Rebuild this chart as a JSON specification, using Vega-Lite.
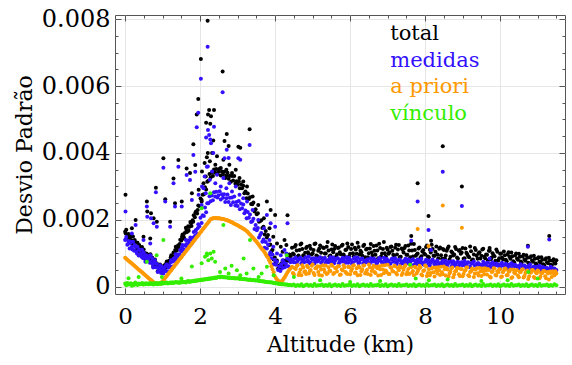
{
"$schema":"https://vega.github.io/schema/vega-lite/v6.json",
"width":450,"height":279,
"autosize":{"type":"none"},
"padding":{"left":115,"top":15,"right":7,"bottom":71},
"config":{
 "view":{"stroke":"#555555","strokeWidth":1},
 "axis":{"labelFont":"DejaVu Serif","titleFont":"DejaVu Serif","labelColor":"#000000","titleColor":"#000000","titleFontWeight":"normal","tickColor":"#555555","gridColor":"#e6e6e6","domain":false,"labelFlush":false,"labelBound":false}
},
"data":{"values":[
{"a":0,"t":0.00165,"m":0.0014,"p":0.00087,"v":0.0001},
{"a":0.03,"t":0.00171,"m":0.00149,"p":0.00084,"v":0.00005},
{"a":0.06,"t":0.0015,"m":0.00126,"p":0.00081,"v":0.00012},
{"a":0.09,"t":0.00158,"m":0.00137,"p":0.00078,"v":0.00007},
{"a":0.12,"t":0.00137,"m":0.00115,"p":0.00075,"v":0.00008},
{"a":0.15,"t":0.00154,"m":0.00135,"p":0.00073,"v":0.00011},
{"a":0.18,"t":0.00139,"m":0.0012,"p":0.0007,"v":0.00004},
{"a":0.21,"t":0.00151,"m":0.00135,"p":0.00067,"v":0.00009},
{"a":0.24,"t":0.00126,"m":0.00108,"p":0.00064,"v":0.00006},
{"a":0.27,"t":0.00134,"m":0.00119,"p":0.00061,"v":0.00013},
{"a":0.3,"t":0.00121,"m":0.00106,"p":0.00058,"v":0.00009},
{"a":0.33,"t":0.00132,"m":0.0012,"p":0.00055,"v":0.00006},
{"a":0.36,"t":0.00107,"m":0.00094,"p":0.00052,"v":0.0001},
{"a":0.39,"t":0.0012,"m":0.0011,"p":0.00049,"v":0.00008},
{"a":0.42,"t":0.0011,"m":0.00099,"p":0.00047,"v":0.00009},
{"a":0.45,"t":0.00119,"m":0.00111,"p":0.00044,"v":0.00012},
{"a":0.48,"t":0.00095,"m":0.00086,"p":0.00041,"v":0.00007},
{"a":0.51,"t":0.00102,"m":0.00095,"p":0.00038,"v":0.0001},
{"a":0.54,"t":0.00083,"m":0.00075,"p":0.00035,"v":0.00008},
{"a":0.57,"t":0.001,"m":0.00095,"p":0.00032,"v":0.00011},
{"a":0.6,"t":0.00085,"m":0.0008,"p":0.00029,"v":0.00009},
{"a":0.63,"t":0.00096,"m":0.00092,"p":0.00026,"v":0.00008},
{"a":0.66,"t":0.00077,"m":0.00072,"p":0.00023,"v":0.00012},
{"a":0.69,"t":0.00079,"m":0.00076,"p":0.00021,"v":0.00009},
{"a":0.72,"t":0.00088,"m":0.00086,"p":0.00018,"v":0.0001},
{"a":0.75,"t":0.0006,"m":0.00058,"p":0.00015,"v":0.00007},
{"a":0.78,"t":0.00074,"m":0.00072,"p":0.00012,"v":0.00011},
{"a":0.81,"t":0.00061,"m":0.00059,"p":0.0001,"v":0.00009},
{"a":0.84,"t":0.00071,"m":0.00069,"p":0.0001,"v":0.00012},
{"a":0.87,"t":0.00047,"m":0.00045,"p":0.0001,"v":0.00008},
{"a":0.9,"t":0.00057,"m":0.00055,"p":0.0001,"v":0.0001},
{"a":0.93,"t":0.00067,"m":0.00065,"p":0.0001,"v":0.00012},
{"a":0.96,"t":0.00044,"m":0.00042,"p":0.00011,"v":0.00009},
{"a":0.99,"t":0.00057,"m":0.00053,"p":0.00016,"v":0.00013},
{"a":1.02,"t":0.00046,"m":0.0004,"p":0.0002,"v":0.0001},
{"a":1.05,"t":0.00065,"m":0.00059,"p":0.00024,"v":0.00012},
{"a":1.08,"t":0.00057,"m":0.00048,"p":0.00029,"v":0.00011},
{"a":1.11,"t":0.00076,"m":0.00067,"p":0.00033,"v":0.00013},
{"a":1.14,"t":0.0006,"m":0.00046,"p":0.00037,"v":0.0001},
{"a":1.17,"t":0.00078,"m":0.00064,"p":0.00042,"v":0.00012},
{"a":1.2,"t":0.00076,"m":0.00059,"p":0.00046,"v":0.00013},
{"a":1.23,"t":0.00095,"m":0.0008,"p":0.0005,"v":0.00011},
{"a":1.26,"t":0.00083,"m":0.00061,"p":0.00055,"v":0.00014},
{"a":1.29,"t":0.00103,"m":0.00084,"p":0.00059,"v":0.00012},
{"a":1.32,"t":0.00102,"m":0.00079,"p":0.00063,"v":0.00013},
{"a":1.35,"t":0.0012,"m":0.00098,"p":0.00068,"v":0.00015},
{"a":1.38,"t":0.00109,"m":0.00081,"p":0.00072,"v":0.00013},
{"a":1.41,"t":0.00124,"m":0.00097,"p":0.00076,"v":0.00014},
{"a":1.44,"t":0.00117,"m":0.00084,"p":0.00081,"v":0.00012},
{"a":1.47,"t":0.00141,"m":0.00111,"p":0.00085,"v":0.00015},
{"a":1.5,"t":0.00139,"m":0.00107,"p":0.00089,"v":0.00013},
{"a":1.53,"t":0.00157,"m":0.00125,"p":0.00094,"v":0.00016},
{"a":1.56,"t":0.0015,"m":0.00112,"p":0.00098,"v":0.00014},
{"a":1.59,"t":0.00161,"m":0.00124,"p":0.00102,"v":0.00015},
{"a":1.62,"t":0.00177,"m":0.0014,"p":0.00107,"v":0.00013},
{"a":1.65,"t":0.00164,"m":0.00119,"p":0.00111,"v":0.00016},
{"a":1.68,"t":0.00181,"m":0.00139,"p":0.00115,"v":0.00018},
{"a":1.71,"t":0.00179,"m":0.00132,"p":0.0012,"v":0.00015},
{"a":1.74,"t":0.00194,"m":0.00148,"p":0.00124,"v":0.00017},
{"a":1.77,"t":0.00182,"m":0.00129,"p":0.00128,"v":0.00016},
{"a":1.8,"t":0.00199,"m":0.00147,"p":0.00133,"v":0.00018},
{"a":1.83,"t":0.00214,"m":0.00164,"p":0.00137,"v":0.00017},
{"a":1.86,"t":0.00208,"m":0.00152,"p":0.00141,"v":0.00019},
{"a":1.89,"t":0.00225,"m":0.0017,"p":0.00146,"v":0.00018},
{"a":1.92,"t":0.00219,"m":0.00158,"p":0.0015,"v":0.0002},
{"a":1.95,"t":0.00243,"m":0.00187,"p":0.00154,"v":0.00019},
{"a":1.98,"t":0.00242,"m":0.00181,"p":0.00159,"v":0.00021},
{"a":2.01,"t":0.00264,"m":0.00207,"p":0.00163,"v":0.0002},
{"a":2.04,"t":0.00255,"m":0.00191,"p":0.00167,"v":0.00022},
{"a":2.07,"t":0.00275,"m":0.00214,"p":0.00172,"v":0.00021},
{"a":2.1,"t":0.00277,"m":0.00212,"p":0.00176,"v":0.00023},
{"a":2.13,"t":0.00298,"m":0.00237,"p":0.0018,"v":0.00022},
{"a":2.16,"t":0.00291,"m":0.00223,"p":0.00185,"v":0.00024},
{"a":2.19,"t":0.00314,"m":0.0025,"p":0.00189,"v":0.00023},
{"a":2.22,"t":0.00317,"m":0.0025,"p":0.00193,"v":0.00025},
{"a":2.25,"t":0.00337,"m":0.00271,"p":0.00198,"v":0.00024},
{"a":2.28,"t":0.00327,"m":0.00256,"p":0.00202,"v":0.00026},
{"a":2.31,"t":0.00342,"m":0.00273,"p":0.00204,"v":0.00025},
{"a":2.34,"t":0.00331,"m":0.00259,"p":0.00205,"v":0.00027},
{"a":2.37,"t":0.00351,"m":0.00283,"p":0.00206,"v":0.00026},
{"a":2.4,"t":0.00341,"m":0.0027,"p":0.00206,"v":0.00028},
{"a":2.43,"t":0.00352,"m":0.00284,"p":0.00206,"v":0.00027},
{"a":2.46,"t":0.00338,"m":0.00267,"p":0.00205,"v":0.00029},
{"a":2.49,"t":0.00344,"m":0.00274,"p":0.00205,"v":0.0003},
{"a":2.52,"t":0.00353,"m":0.00286,"p":0.00205,"v":0.00029},
{"a":2.55,"t":0.00333,"m":0.00261,"p":0.00204,"v":0.00031},
{"a":2.58,"t":0.00345,"m":0.00277,"p":0.00204,"v":0.0003},
{"a":2.61,"t":0.00336,"m":0.00266,"p":0.00203,"v":0.00029},
{"a":2.64,"t":0.00344,"m":0.00277,"p":0.00202,"v":0.0003},
{"a":2.67,"t":0.00325,"m":0.00254,"p":0.00201,"v":0.00028},
{"a":2.7,"t":0.00333,"m":0.00265,"p":0.002,"v":0.00029},
{"a":2.73,"t":0.00341,"m":0.00276,"p":0.00199,"v":0.00028},
{"a":2.76,"t":0.00323,"m":0.00254,"p":0.00197,"v":0.00027},
{"a":2.79,"t":0.00332,"m":0.00266,"p":0.00196,"v":0.00028},
{"a":2.82,"t":0.00314,"m":0.00245,"p":0.00194,"v":0.00027},
{"a":2.85,"t":0.00331,"m":0.00267,"p":0.00193,"v":0.00026},
{"a":2.88,"t":0.00318,"m":0.00253,"p":0.00191,"v":0.00027},
{"a":2.91,"t":0.00331,"m":0.0027,"p":0.00189,"v":0.00026},
{"a":2.94,"t":0.00308,"m":0.00243,"p":0.00187,"v":0.00025},
{"a":2.97,"t":0.00316,"m":0.00254,"p":0.00186,"v":0.00026},
{"a":3,"t":0.00305,"m":0.00242,"p":0.00184,"v":0.00026},
{"a":3.03,"t":0.00316,"m":0.00257,"p":0.00182,"v":0.00025},
{"a":3.06,"t":0.00295,"m":0.00232,"p":0.0018,"v":0.00024},
{"a":3.09,"t":0.00307,"m":0.00249,"p":0.00178,"v":0.00025},
{"a":3.12,"t":0.00295,"m":0.00235,"p":0.00176,"v":0.00024},
{"a":3.15,"t":0.00302,"m":0.00246,"p":0.00174,"v":0.00023},
{"a":3.18,"t":0.0028,"m":0.0022,"p":0.00172,"v":0.00024},
{"a":3.21,"t":0.00285,"m":0.00228,"p":0.00169,"v":0.00023},
{"a":3.24,"t":0.00265,"m":0.00205,"p":0.00167,"v":0.00022},
{"a":3.27,"t":0.00279,"m":0.00224,"p":0.00164,"v":0.00022},
{"a":3.3,"t":0.00263,"m":0.00207,"p":0.0016,"v":0.00021},
{"a":3.33,"t":0.00268,"m":0.00216,"p":0.00157,"v":0.00022},
{"a":3.36,"t":0.00248,"m":0.00194,"p":0.00153,"v":0.00021},
{"a":3.39,"t":0.00247,"m":0.00196,"p":0.00149,"v":0.0002},
{"a":3.42,"t":0.00252,"m":0.00204,"p":0.00146,"v":0.00021},
{"a":3.45,"t":0.00225,"m":0.00173,"p":0.00142,"v":0.0002},
{"a":3.48,"t":0.00232,"m":0.00185,"p":0.00138,"v":0.00019},
{"a":3.51,"t":0.00217,"m":0.00169,"p":0.00134,"v":0.0002},
{"a":3.54,"t":0.0022,"m":0.00176,"p":0.0013,"v":0.00019},
{"a":3.57,"t":0.00195,"m":0.00148,"p":0.00125,"v":0.00018},
{"a":3.6,"t":0.00197,"m":0.00155,"p":0.0012,"v":0.00018},
{"a":3.63,"t":0.00199,"m":0.00161,"p":0.00116,"v":0.00017},
{"a":3.66,"t":0.00176,"m":0.00135,"p":0.00112,"v":0.00017},
{"a":3.69,"t":0.0018,"m":0.00142,"p":0.00109,"v":0.00016},
{"a":3.72,"t":0.00157,"m":0.00117,"p":0.00104,"v":0.00016},
{"a":3.75,"t":0.00167,"m":0.00134,"p":0.00098,"v":0.00015},
{"a":3.78,"t":0.00148,"m":0.00115,"p":0.00092,"v":0.00015},
{"a":3.81,"t":0.00155,"m":0.00127,"p":0.00087,"v":0.00014},
{"a":3.84,"t":0.00125,"m":0.00095,"p":0.0008,"v":0.00014},
{"a":3.87,"t":0.00127,"m":0.00103,"p":0.00072,"v":0.00014},
{"a":3.9,"t":0.00107,"m":0.00086,"p":0.00062,"v":0.00013},
{"a":3.93,"t":0.00111,"m":0.00097,"p":0.00053,"v":0.00013},
{"a":3.96,"t":0.00082,"m":0.00068,"p":0.00044,"v":0.00012},
{"a":3.99,"t":0.00088,"m":0.00081,"p":0.00033,"v":0.00012},
{"a":4.02,"t":0.00072,"m":0.00066,"p":0.00027,"v":0.00011},
{"a":4.05,"t":0.00079,"m":0.00075,"p":0.00022,"v":0.0001},
{"a":4.08,"t":0.00055,"m":0.00051,"p":0.00018,"v":0.0001},
{"a":4.11,"t":0.00064,"m":0.00061,"p":0.00016,"v":0.00009},
{"a":4.14,"t":0.00051,"m":0.00048,"p":0.00015,"v":0.00009},
{"a":4.17,"t":0.00071,"m":0.00068,"p":0.00017,"v":0.00008},
{"a":4.2,"t":0.00061,"m":0.00057,"p":0.0002,"v":0.00008},
{"a":4.23,"t":0.00079,"m":0.00074,"p":0.00025,"v":0.00008},
{"a":4.26,"t":0.00067,"m":0.00059,"p":0.0003,"v":0.00007},
{"a":4.29,"t":0.00078,"m":0.00069,"p":0.00036,"v":0.00007},
{"a":4.32,"t":0.00095,"m":0.00085,"p":0.00042,"v":0.00007},
{"a":4.35,"t":0.00078,"m":0.00062,"p":0.00047,"v":0.00006},
{"a":4.38,"t":0.00097,"m":0.00082,"p":0.00052,"v":0.00006},
{"a":4.41,"t":0.00092,"m":0.00074,"p":0.00055,"v":0.00006},
{"a":4.45,"t":0.00117,"m":0.00083,"p":0.0006,"v":0.00005},
{"a":4.5,"t":0.00097,"m":0.00074,"p":0.00038,"v":0.00007},
{"a":4.55,"t":0.00125,"m":0.00088,"p":0.00054,"v":0.00003},
{"a":4.6,"t":0.0009,"m":0.00078,"p":0.00065,"v":0.00006},
{"a":4.65,"t":0.0011,"m":0.00085,"p":0.00043,"v":0.00004},
{"a":4.7,"t":0.0013,"m":0.00071,"p":0.00035,"v":0.00008},
{"a":4.75,"t":0.00095,"m":0.00081,"p":0.00058,"v":0.00002},
{"a":4.8,"t":0.00102,"m":0.00087,"p":0.00047,"v":0.00005},
{"a":4.85,"t":0.0012,"m":0.00076,"p":0.00063,"v":0.00007},
{"a":4.9,"t":0.00098,"m":0.0009,"p":0.0004,"v":0.00004},
{"a":4.95,"t":0.00114,"m":0.00073,"p":0.00051,"v":0.00006},
{"a":5,"t":0.00101,"m":0.00082,"p":0.00067,"v":0.00003},
{"a":5.05,"t":0.00128,"m":0.0007,"p":0.00036,"v":0.00009},
{"a":5.1,"t":0.00094,"m":0.00086,"p":0.00056,"v":0.00004},
{"a":5.15,"t":0.00108,"m":0.00079,"p":0.00045,"v":0.00005},
{"a":5.2,"t":0.00124,"m":0.00089,"p":0.00061,"v":0.00005},
{"a":5.25,"t":0.00086,"m":0.00075,"p":0.00034,"v":0.00007},
{"a":5.3,"t":0.00116,"m":0.00084,"p":0.00053,"v":0.00003},
{"a":5.35,"t":0.001,"m":0.00072,"p":0.00064,"v":0.00006},
{"a":5.4,"t":0.00134,"m":0.0008,"p":0.00041,"v":0.00004},
{"a":5.45,"t":0.00092,"m":0.00083,"p":0.00049,"v":0.00008},
{"a":5.5,"t":0.00112,"m":0.00074,"p":0.00066,"v":0.00002},
{"a":5.55,"t":0.00104,"m":0.00088,"p":0.00039,"v":0.00005},
{"a":5.6,"t":0.00122,"m":0.00078,"p":0.00057,"v":0.00007},
{"a":5.65,"t":0.00097,"m":0.00085,"p":0.00046,"v":0.00004},
{"a":5.7,"t":0.00118,"m":0.00071,"p":0.00062,"v":0.00006},
{"a":5.75,"t":0.00098,"m":0.00081,"p":0.00037,"v":0.00003},
{"a":5.8,"t":0.00126,"m":0.00087,"p":0.0005,"v":0.00009},
{"a":5.85,"t":0.00091,"m":0.00076,"p":0.00059,"v":0.00004},
{"a":5.9,"t":0.00112,"m":0.00089,"p":0.00042,"v":0.00005},
{"a":5.95,"t":0.00119,"m":0.00072,"p":0.0006,"v":0.00005},
{"a":6,"t":0.00099,"m":0.00081,"p":0.00038,"v":0.00007},
{"a":6.05,"t":0.00127,"m":0.00069,"p":0.00054,"v":0.00003},
{"a":6.1,"t":0.00092,"m":0.00085,"p":0.00065,"v":0.00006},
{"a":6.15,"t":0.00112,"m":0.00078,"p":0.00043,"v":0.00004},
{"a":6.2,"t":0.00132,"m":0.00088,"p":0.00035,"v":0.00008},
{"a":6.25,"t":0.00097,"m":0.00074,"p":0.00058,"v":0.00002},
{"a":6.3,"t":0.00104,"m":0.00083,"p":0.00047,"v":0.00005},
{"a":6.35,"t":0.00122,"m":0.0007,"p":0.00063,"v":0.00007},
{"a":6.4,"t":0.00089,"m":0.00078,"p":0.0004,"v":0.00004},
{"a":6.45,"t":0.00114,"m":0.00081,"p":0.00051,"v":0.00006},
{"a":6.5,"t":0.00101,"m":0.00072,"p":0.00067,"v":0.00003},
{"a":6.55,"t":0.00128,"m":0.00086,"p":0.00036,"v":0.00009},
{"a":6.6,"t":0.00094,"m":0.00076,"p":0.00056,"v":0.00004},
{"a":6.65,"t":0.00108,"m":0.00083,"p":0.00045,"v":0.00005},
{"a":6.7,"t":0.00124,"m":0.00069,"p":0.00061,"v":0.00005},
{"a":6.75,"t":0.00086,"m":0.00079,"p":0.00034,"v":0.00007},
{"a":6.8,"t":0.00116,"m":0.00085,"p":0.00053,"v":0.00003},
{"a":6.85,"t":0.001,"m":0.00073,"p":0.00064,"v":0.00006},
{"a":6.9,"t":0.00134,"m":0.00087,"p":0.00041,"v":0.00004},
{"a":6.95,"t":0.00092,"m":0.0007,"p":0.00049,"v":0.00008},
{"a":7,"t":0.00111,"m":0.00079,"p":0.00066,"v":0.00002},
{"a":7.05,"t":0.00103,"m":0.00067,"p":0.00039,"v":0.00005},
{"a":7.1,"t":0.00121,"m":0.00083,"p":0.00057,"v":0.00007},
{"a":7.15,"t":0.00096,"m":0.00076,"p":0.00046,"v":0.00004},
{"a":7.2,"t":0.00117,"m":0.00086,"p":0.00062,"v":0.00006},
{"a":7.25,"t":0.00097,"m":0.00072,"p":0.00037,"v":0.00003},
{"a":7.3,"t":0.00125,"m":0.0008,"p":0.0005,"v":0.00009},
{"a":7.35,"t":0.0009,"m":0.00068,"p":0.00059,"v":0.00004},
{"a":7.4,"t":0.00111,"m":0.00076,"p":0.00042,"v":0.00005},
{"a":7.45,"t":0.00116,"m":0.00079,"p":0.0006,"v":0.00005},
{"a":7.5,"t":0.00096,"m":0.0007,"p":0.00038,"v":0.00007},
{"a":7.55,"t":0.00124,"m":0.00083,"p":0.00054,"v":0.00003},
{"a":7.6,"t":0.00089,"m":0.00073,"p":0.00065,"v":0.00006},
{"a":7.65,"t":0.00109,"m":0.0008,"p":0.00043,"v":0.00004},
{"a":7.7,"t":0.00128,"m":0.00066,"p":0.00035,"v":0.00008},
{"a":7.75,"t":0.00093,"m":0.00076,"p":0.00058,"v":0.00002},
{"a":7.8,"t":0.001,"m":0.00082,"p":0.00047,"v":0.00005},
{"a":7.85,"t":0.00118,"m":0.0007,"p":0.00063,"v":0.00007},
{"a":7.9,"t":0.00092,"m":0.00084,"p":0.00037,"v":0.00004},
{"a":7.95,"t":0.0011,"m":0.00067,"p":0.00048,"v":0.00006},
{"a":8,"t":0.00097,"m":0.00076,"p":0.00064,"v":0.00003},
{"a":8.05,"t":0.00124,"m":0.00063,"p":0.00033,"v":0.00009},
{"a":8.1,"t":0.00089,"m":0.00079,"p":0.00053,"v":0.00004},
{"a":8.15,"t":0.00103,"m":0.00072,"p":0.00042,"v":0.00005},
{"a":8.2,"t":0.00113,"m":0.00082,"p":0.00058,"v":0.00005},
{"a":8.25,"t":0.00093,"m":0.00068,"p":0.00031,"v":0.00007},
{"a":8.3,"t":0.00121,"m":0.00076,"p":0.0005,"v":0.00003},
{"a":8.35,"t":0.00086,"m":0.00064,"p":0.00059,"v":0.00006},
{"a":8.4,"t":0.00118,"m":0.00071,"p":0.00036,"v":0.00004},
{"a":8.45,"t":0.00084,"m":0.00074,"p":0.00044,"v":0.00008},
{"a":8.5,"t":0.0011,"m":0.00064,"p":0.00061,"v":0.00002},
{"a":8.55,"t":0.00094,"m":0.00078,"p":0.00034,"v":0.00005},
{"a":8.6,"t":0.00115,"m":0.00068,"p":0.00052,"v":0.00007},
{"a":8.65,"t":0.00082,"m":0.00075,"p":0.0004,"v":0.00004},
{"a":8.7,"t":0.00106,"m":0.0006,"p":0.00056,"v":0.00006},
{"a":8.75,"t":0.00094,"m":0.00077,"p":0.00029,"v":0.00003},
{"a":8.8,"t":0.00119,"m":0.00066,"p":0.00047,"v":0.00009},
{"a":8.85,"t":0.00088,"m":0.00074,"p":0.00057,"v":0.00004},
{"a":8.9,"t":0.00108,"m":0.00063,"p":0.00038,"v":0.00005},
{"a":8.95,"t":0.00099,"m":0.00072,"p":0.00054,"v":0.00005},
{"a":9,"t":0.00116,"m":0.00065,"p":0.00032,"v":0.00007},
{"a":9.05,"t":0.00086,"m":0.00078,"p":0.00048,"v":0.00003},
{"a":9.1,"t":0.00102,"m":0.00068,"p":0.00058,"v":0.00006},
{"a":9.15,"t":0.00091,"m":0.00074,"p":0.00035,"v":0.00004},
{"a":9.2,"t":0.00121,"m":0.0006,"p":0.00045,"v":0.00008},
{"a":9.25,"t":0.0008,"m":0.0007,"p":0.00055,"v":0.00002},
{"a":9.3,"t":0.00097,"m":0.00076,"p":0.0003,"v":0.00005},
{"a":9.35,"t":0.0011,"m":0.00064,"p":0.00052,"v":0.00007},
{"a":9.4,"t":0.00084,"m":0.00071,"p":0.00041,"v":0.00004},
{"a":9.45,"t":0.00104,"m":0.00067,"p":0.00057,"v":0.00006},
{"a":9.5,"t":0.00093,"m":0.00062,"p":0.00033,"v":0.00003},
{"a":9.55,"t":0.00114,"m":0.00075,"p":0.00047,"v":0.00009},
{"a":9.6,"t":0.00086,"m":0.00065,"p":0.00056,"v":0.00004},
{"a":9.65,"t":0.00096,"m":0.00072,"p":0.00037,"v":0.00005},
{"a":9.7,"t":0.00108,"m":0.00059,"p":0.00051,"v":0.00005},
{"a":9.75,"t":0.00083,"m":0.00069,"p":0.00028,"v":0.00007},
{"a":9.8,"t":0.00101,"m":0.00074,"p":0.00046,"v":0.00003},
{"a":9.85,"t":0.00092,"m":0.00063,"p":0.00055,"v":0.00006},
{"a":9.9,"t":0.00112,"m":0.0007,"p":0.00034,"v":0.00004},
{"a":9.95,"t":0.00079,"m":0.00066,"p":0.00044,"v":0.00008},
{"a":10,"t":0.00099,"m":0.00058,"p":0.00053,"v":0.00002},
{"a":10.05,"t":0.00088,"m":0.00072,"p":0.00031,"v":0.00005},
{"a":10.1,"t":0.00106,"m":0.00063,"p":0.00049,"v":0.00007},
{"a":10.15,"t":0.00081,"m":0.00069,"p":0.00054,"v":0.00004},
{"a":10.2,"t":0.00097,"m":0.00057,"p":0.00036,"v":0.00006},
{"a":10.25,"t":0.0009,"m":0.00067,"p":0.00046,"v":0.00003},
{"a":10.3,"t":0.00103,"m":0.00071,"p":0.00027,"v":0.00009},
{"a":10.35,"t":0.00077,"m":0.0006,"p":0.00052,"v":0.00004},
{"a":10.4,"t":0.00094,"m":0.00066,"p":0.0004,"v":0.00005},
{"a":10.45,"t":0.00085,"m":0.00062,"p":0.0005,"v":0.00005},
{"a":10.5,"t":0.00099,"m":0.00055,"p":0.00029,"v":0.00007},
{"a":10.55,"t":0.00076,"m":0.00068,"p":0.00045,"v":0.00003},
{"a":10.6,"t":0.00091,"m":0.00059,"p":0.00053,"v":0.00006},
{"a":10.65,"t":0.00082,"m":0.00064,"p":0.00033,"v":0.00004},
{"a":10.7,"t":0.00095,"m":0.00053,"p":0.00047,"v":0.00008},
{"a":10.75,"t":0.00072,"m":0.00062,"p":0.00024,"v":0.00002},
{"a":10.8,"t":0.00088,"m":0.00067,"p":0.00043,"v":0.00005},
{"a":10.85,"t":0.00079,"m":0.00056,"p":0.00051,"v":0.00007},
{"a":10.9,"t":0.00093,"m":0.00061,"p":0.0003,"v":0.00004},
{"a":10.95,"t":0.0007,"m":0.00057,"p":0.00044,"v":0.00006},
{"a":11,"t":0.00086,"m":0.00051,"p":0.00049,"v":0.00003},
{"a":11.05,"t":0.00076,"m":0.00063,"p":0.00026,"v":0.00009},
{"a":11.1,"t":0.00089,"m":0.00055,"p":0.00041,"v":0.00004},
{"a":11.15,"t":0.00068,"m":0.00059,"p":0.00048,"v":0.00005},
{"a":11.2,"t":0.00082,"m":0.00049,"p":0.00032,"v":0.00005},
{"a":11.25,"t":0.00074,"m":0.00057,"p":0.00045,"v":0.00007},
{"a":11.3,"t":0.00087,"m":0.00053,"p":0.00022,"v":0.00003},
{"a":11.35,"t":0.00066,"m":0.0006,"p":0.00042,"v":0.00006},
{"a":11.4,"t":0.00078,"m":0.00048,"p":0.00047,"v":0.00004},
{"a":11.45,"t":0.00071,"m":0.00055,"p":0.00035,"v":0.00008},
{"a":11.5,"t":0.0008,"m":0.00051,"p":0.0004,"v":0.00005},
{"a":4.475,"t":0.001,"m":0.00076,"p":0.00042},
{"a":4.525,"t":0.0012,"m":0.00085,"p":0.00056},
{"a":4.575,"t":0.00109,"m":0.00072,"p":0.00062},
{"a":4.625,"t":0.00094,"m":0.00082,"p":0.00036},
{"a":4.675,"t":0.00127,"m":0.00087,"p":0.00052},
{"a":4.725,"t":0.00113,"m":0.00079,"p":0.00065},
{"a":4.775,"t":0.0009,"m":0.00074,"p":0.00045},
{"a":4.825,"t":0.00116,"m":0.00089,"p":0.00039},
{"a":4.875,"t":0.00104,"m":0.0008,"p":0.00059},
{"a":4.925,"t":0.00123,"m":0.00071,"p":0.00048},
{"a":4.975,"t":0.00097,"m":0.00084,"p":0.00063},
{"a":5.025,"t":0.0011,"m":0.00086,"p":0.00042},
{"a":5.075,"t":0.0013,"m":0.00077,"p":0.00056},
{"a":5.125,"t":0.00092,"m":0.00076,"p":0.00062},
{"a":5.175,"t":0.00114,"m":0.00085,"p":0.00036},
{"a":5.225,"t":0.00102,"m":0.00072,"p":0.00052},
{"a":5.275,"t":0.00118,"m":0.00082,"p":0.00065},
{"a":5.325,"t":0.001,"m":0.00087,"p":0.00045},
{"a":5.375,"t":0.0012,"m":0.00079,"p":0.00039},
{"a":5.425,"t":0.00109,"m":0.00074,"p":0.00059},
{"a":5.475,"t":0.00094,"m":0.00089,"p":0.00048},
{"a":5.525,"t":0.00127,"m":0.0008,"p":0.00063},
{"a":5.575,"t":0.00113,"m":0.00071,"p":0.00042},
{"a":5.625,"t":0.0009,"m":0.00084,"p":0.00056},
{"a":5.675,"t":0.00116,"m":0.00086,"p":0.00062},
{"a":5.725,"t":0.00104,"m":0.00077,"p":0.00036},
{"a":5.775,"t":0.00123,"m":0.00076,"p":0.00052},
{"a":5.825,"t":0.00097,"m":0.00085,"p":0.00065},
{"a":5.875,"t":0.0011,"m":0.00072,"p":0.00045},
{"a":5.925,"t":0.0013,"m":0.00082,"p":0.00039},
{"a":5.975,"t":0.00092,"m":0.00087,"p":0.00059},
{"a":6.025,"t":0.00113,"m":0.00078,"p":0.00048},
{"a":6.075,"t":0.00101,"m":0.00073,"p":0.00063},
{"a":6.125,"t":0.00117,"m":0.00088,"p":0.00042},
{"a":6.175,"t":0.00099,"m":0.00079,"p":0.00056},
{"a":6.225,"t":0.00119,"m":0.0007,"p":0.00062},
{"a":6.275,"t":0.00108,"m":0.00083,"p":0.00036},
{"a":6.325,"t":0.00093,"m":0.00085,"p":0.00052},
{"a":6.375,"t":0.00126,"m":0.00075,"p":0.00065},
{"a":6.425,"t":0.00112,"m":0.00074,"p":0.00045},
{"a":6.475,"t":0.00089,"m":0.00083,"p":0.00039},
{"a":6.525,"t":0.00115,"m":0.0007,"p":0.00059},
{"a":6.575,"t":0.00103,"m":0.0008,"p":0.00048},
{"a":6.625,"t":0.00122,"m":0.00085,"p":0.00063},
{"a":6.675,"t":0.00096,"m":0.00077,"p":0.00042},
{"a":6.725,"t":0.00109,"m":0.00072,"p":0.00056},
{"a":6.775,"t":0.00129,"m":0.00086,"p":0.00062},
{"a":6.825,"t":0.00091,"m":0.00077,"p":0.00036},
{"a":6.875,"t":0.00113,"m":0.00069,"p":0.00052},
{"a":6.925,"t":0.00101,"m":0.0008,"p":0.00065},
{"a":6.975,"t":0.00117,"m":0.00084,"p":0.00045},
{"a":7.025,"t":0.00099,"m":0.00076,"p":0.00039},
{"a":7.075,"t":0.00119,"m":0.0007,"p":0.00059},
{"a":7.125,"t":0.00108,"m":0.00085,"p":0.00048},
{"a":7.175,"t":0.00093,"m":0.00076,"p":0.00063},
{"a":7.225,"t":0.00126,"m":0.00067,"p":0.00042},
{"a":7.275,"t":0.00112,"m":0.0008,"p":0.00056},
{"a":7.325,"t":0.00089,"m":0.00082,"p":0.00062},
{"a":7.375,"t":0.00115,"m":0.00073,"p":0.00036},
{"a":7.425,"t":0.00103,"m":0.00071,"p":0.00052},
{"a":7.475,"t":0.00122,"m":0.00084,"p":0.00065},
{"a":7.525,"t":0.00096,"m":0.00075,"p":0.00045},
{"a":7.575,"t":0.00109,"m":0.00069,"p":0.00039},
{"a":7.625,"t":0.00129,"m":0.0008,"p":0.00059},
{"a":7.675,"t":0.00091,"m":0.00083,"p":0.00048},
{"a":7.725,"t":0.0011,"m":0.00078,"p":0.0006},
{"a":7.775,"t":0.00097,"m":0.00068,"p":0.0004},
{"a":7.825,"t":0.00115,"m":0.00074,"p":0.00053},
{"a":7.875,"t":0.00087,"m":0.00079,"p":0.00058},
{"a":7.925,"t":0.00106,"m":0.00072,"p":0.00034},
{"a":7.975,"t":0.00099,"m":0.00066,"p":0.0005},
{"a":8.025,"t":0.00119,"m":0.00081,"p":0.00061},
{"a":8.075,"t":0.00091,"m":0.00073,"p":0.00042},
{"a":8.125,"t":0.00111,"m":0.00064,"p":0.00035},
{"a":8.175,"t":0.00126,"m":0.00077,"p":0.00055},
{"a":8.225,"t":0.00093,"m":0.00075,"p":0.00044},
{"a":8.275,"t":0.00105,"m":0.00069,"p":0.00058},
{"a":8.325,"t":0.00097,"m":0.00079,"p":0.0004},
{"a":8.375,"t":0.00114,"m":0.00071,"p":0.00049},
{"a":8.425,"t":0.00095,"m":0.00066,"p":0.0006},
{"a":8.475,"t":0.00113,"m":0.00079,"p":0.00038},
{"a":8.525,"t":0.00086,"m":0.0007,"p":0.00053},
{"a":8.575,"t":0.00108,"m":0.00062,"p":0.00057},
{"a":8.625,"t":0.00121,"m":0.00073,"p":0.00031},
{"a":8.675,"t":0.0009,"m":0.00076,"p":0.00046},
{"a":8.725,"t":0.00102,"m":0.00067,"p":0.00058},
{"a":8.775,"t":0.00097,"m":0.00071,"p":0.00037},
{"a":8.825,"t":0.00113,"m":0.00061,"p":0.00048},
{"a":8.875,"t":0.00085,"m":0.00075,"p":0.00056},
{"a":8.925,"t":0.0011,"m":0.00068,"p":0.00033},
{"a":8.975,"t":0.00103,"m":0.00074,"p":0.00054},
{"a":9.025,"t":0.00084,"m":0.0007,"p":0.00039},
{"a":9.075,"t":0.00115,"m":0.00063,"p":0.0005},
{"a":9.125,"t":0.00098,"m":0.00072,"p":0.00058},
{"a":9.175,"t":0.00089,"m":0.00059,"p":0.00032},
{"a":9.225,"t":0.00107,"m":0.0007,"p":0.00047},
{"a":9.275,"t":0.00082,"m":0.00073,"p":0.00053},
{"a":9.325,"t":0.00116,"m":0.00064,"p":0.0004},
{"a":9.375,"t":0.00093,"m":0.00068,"p":0.00056},
{"a":9.425,"t":0.00101,"m":0.00071,"p":0.00034},
{"a":9.475,"t":0.00085,"m":0.00061,"p":0.00046},
{"a":9.525,"t":0.00112,"m":0.00066,"p":0.00055},
{"a":9.575,"t":0.0009,"m":0.0007,"p":0.00038},
{"a":9.625,"t":0.00097,"m":0.00063,"p":0.00049},
{"a":9.675,"t":0.0008,"m":0.00072,"p":0.00054},
{"a":9.725,"t":0.00108,"m":0.00062,"p":0.00031},
{"a":9.775,"t":0.00088,"m":0.00058,"p":0.00045},
{"a":9.825,"t":0.00094,"m":0.00068,"p":0.00056},
{"a":9.875,"t":0.00078,"m":0.00064,"p":0.00036},
{"a":9.925,"t":0.00105,"m":0.00067,"p":0.00047},
{"a":9.975,"t":0.00086,"m":0.0006,"p":0.00053},
{"a":10.025,"t":0.001,"m":0.00069,"p":0.0003},
{"a":10.075,"t":0.00083,"m":0.00065,"p":0.00044},
{"a":10.125,"t":0.00095,"m":0.00056,"p":0.00055},
{"a":10.175,"t":0.00077,"m":0.00066,"p":0.00035},
{"a":10.225,"t":0.00104,"m":0.0006,"p":0.00046},
{"a":10.275,"t":0.00084,"m":0.00057,"p":0.00052},
{"a":10.325,"t":0.00092,"m":0.00068,"p":0.00029},
{"a":10.375,"t":0.00074,"m":0.00061,"p":0.00043},
{"a":10.425,"t":0.001,"m":0.00063,"p":0.0005},
{"a":10.475,"t":0.00081,"m":0.00055,"p":0.00034},
{"a":10.525,"t":0.0009,"m":0.00065,"p":0.00045},
{"a":10.575,"t":0.00073,"m":0.00053,"p":0.00051},
{"a":10.625,"t":0.00096,"m":0.00063,"p":0.00028},
{"a":10.675,"t":0.00078,"m":0.0006,"p":0.00042},
{"a":10.725,"t":0.00087,"m":0.00056,"p":0.00049},
{"a":10.775,"t":0.0007,"m":0.00061,"p":0.00032},
{"a":10.825,"t":0.00092,"m":0.00051,"p":0.00043},
{"a":10.875,"t":0.00075,"m":0.00058,"p":0.0005},
{"a":10.925,"t":0.00084,"m":0.00052,"p":0.00027},
{"a":10.975,"t":0.00068,"m":0.0006,"p":0.00041},
{"a":11.025,"t":0.00089,"m":0.00056,"p":0.00047},
{"a":11.075,"t":0.00073,"m":0.0005,"p":0.00031},
{"a":11.125,"t":0.00081,"m":0.00059,"p":0.00042},
{"a":11.175,"t":0.00065,"m":0.00054,"p":0.00048},
{"a":11.225,"t":0.00086,"m":0.00057,"p":0.00026},
{"a":11.275,"t":0.00071,"m":0.00051,"p":0.0004},
{"a":11.325,"t":0.00079,"m":0.00047,"p":0.00046},
{"a":11.375,"t":0.00064,"m":0.00055,"p":0.0003},
{"a":11.425,"t":0.00083,"m":0.00052,"p":0.00042},
{"a":11.475,"t":0.0007,"m":0.00049,"p":0.00047},
{"a":0.015,"t":0.0016,"m":0.00142},
{"a":0.075,"t":0.00145,"m":0.00128},
{"a":0.135,"t":0.00148,"m":0.00131},
{"a":0.195,"t":0.00128,"m":0.00112},
{"a":0.255,"t":0.0014,"m":0.00125},
{"a":0.315,"t":0.00113,"m":0.001},
{"a":0.375,"t":0.00125,"m":0.00112},
{"a":0.435,"t":0.001,"m":0.0009},
{"a":0.495,"t":0.00112,"m":0.00104},
{"a":0.555,"t":0.00092,"m":0.00086},
{"a":0.615,"t":0.00088,"m":0.00084},
{"a":0.675,"t":0.00098,"m":0.00095},
{"a":0.735,"t":0.0007,"m":0.00068},
{"a":0.795,"t":0.00082,"m":0.0008},
{"a":0.855,"t":0.0006,"m":0.00058},
{"a":0.915,"t":0.0005,"m":0.00048},
{"a":0.975,"t":0.00062,"m":0.0006},
{"a":1.035,"t":0.00052,"m":0.00048},
{"a":1.095,"t":0.0007,"m":0.00064},
{"a":1.155,"t":0.00068,"m":0.00058},
{"a":1.215,"t":0.00088,"m":0.00074},
{"a":1.275,"t":0.00092,"m":0.00076},
{"a":1.335,"t":0.0011,"m":0.00088},
{"a":1.395,"t":0.00118,"m":0.00092},
{"a":1.455,"t":0.00128,"m":0.00098},
{"a":1.515,"t":0.0015,"m":0.00118},
{"a":1.575,"t":0.00145,"m":0.0011},
{"a":1.635,"t":0.0017,"m":0.00128},
{"a":1.695,"t":0.00168,"m":0.00125},
{"a":1.755,"t":0.0019,"m":0.00142},
{"a":1.815,"t":0.00195,"m":0.00142},
{"a":1.875,"t":0.00222,"m":0.00168},
{"a":1.935,"t":0.0023,"m":0.00175},
{"a":0.01,"t":0.00275,"m":0.00225},
{"a":0.28,"t":0.002,"m":0.00185},
{"a":0.58,"t":0.00255,"m":0.0024},
{"a":0.59,"t":0.00225,"m":0.0021},
{"a":0.69,"t":0.0022,"m":0.00205},
{"a":0.76,"t":0.00205,"m":0.0019},
{"a":0.82,"t":0.00296,"m":0.00283},
{"a":0.845,"t":0.00195,"m":0.0018},
{"a":1.02,"t":0.00384,"m":0.00356},
{"a":1.07,"t":0.00262,"m":0.00255},
{"a":1.29,"t":0.00324,"m":0.0031},
{"a":1.42,"t":0.00379,"m":0.00359},
{"a":1.33,"t":0.0025,"m":0.0024},
{"a":1.2,"t":0.00195,"m":0.0018},
{"a":1.64,"t":0.00354,"m":0.00334},
{"a":1.73,"t":0.0034,"m":0.00319},
{"a":1.87,"t":0.00364,"m":0.00344},
{"a":1.82,"t":0.00426,"m":0.00394},
{"a":2.18,"t":0.00387,"m":0.00359},
{"a":2.09,"t":0.0031,"m":0.00295},
{"a":1.51,"t":0.00255,"m":0.0024},
{"a":1.78,"t":0.0028,"m":0.0026},
{"a":1.96,"t":0.0029,"m":0.00275},
{"a":2.04,"t":0.0026,"m":0.00245},
{"a":0.49,"t":0.0015,"m":0.0014},
{"a":0.67,"t":0.00145,"m":0.0013},
{"a":0.18,"t":0.00175,"m":0.0016},
{"a":2.2,"t":0.00795,"m":0.00717},
{"a":2.02,"t":0.00681,"m":0.00622},
{"a":2.6,"t":0.00643,"m":0.00581},
{"a":1.95,"t":0.00561,"m":0.0052},
{"a":1.91,"t":0.00515,"m":0.00477},
{"a":2.21,"t":0.00515,"m":0.00469},
{"a":2.24,"t":0.00528,"m":0.00454},
{"a":2.37,"t":0.00528,"m":0.00478},
{"a":2.29,"t":0.0051,"m":0.00429},
{"a":2.16,"t":0.0049,"m":0.00446},
{"a":2.27,"t":0.00487,"m":0.0044},
{"a":2.35,"t":0.00437,"m":0.004},
{"a":2.65,"t":0.00436,"m":0.00384},
{"a":2.71,"t":0.00457,"m":0.0041},
{"a":3.32,"t":0.00471,"m":0.00424},
{"a":3.07,"t":0.00416,"m":0.0038},
{"a":2.76,"t":0.00421,"m":0.00385},
{"a":3.02,"t":0.00419,"m":0.00384},
{"a":2.05,"t":0.00345,"m":0.003},
{"a":2.12,"t":0.0037,"m":0.0033},
{"a":2.15,"t":0.0033,"m":0.0028},
{"a":2.205,"t":0.004,"m":0.0036},
{"a":2.26,"t":0.00375,"m":0.0032},
{"a":2.32,"t":0.004,"m":0.00345},
{"a":2.405,"t":0.00365,"m":0.0031},
{"a":2.45,"t":0.0039,"m":0.00335},
{"a":2.55,"t":0.00355,"m":0.003},
{"a":2.62,"t":0.0038,"m":0.00325},
{"a":2.7,"t":0.0035,"m":0.00295},
{"a":2.78,"t":0.00365,"m":0.0031},
{"a":2.85,"t":0.0034,"m":0.00285},
{"a":2.95,"t":0.0035,"m":0.003},
{"a":3.05,"t":0.00325,"m":0.00275},
{"a":3.15,"t":0.00315,"m":0.00265},
{"a":3.25,"t":0.003,"m":0.00255},
{"a":3.4,"t":0.0027,"m":0.0023},
{"a":3.55,"t":0.00245,"m":0.002},
{"a":3.7,"t":0.00205,"m":0.00175},
{"a":3.85,"t":0.00175,"m":0.0014},
{"a":3.95,"t":0.0015,"m":0.0012},
{"a":4.05,"t":0.0013,"m":0.001},
{"a":4.15,"t":0.0012,"m":0.00095},
{"a":4.25,"t":0.0014,"m":0.0011},
{"a":4.3,"t":0.00125,"m":0.001},
{"a":4.33,"t":0.00214,"m":0.0019},
{"a":4.2,"t":0.00105,"m":0.0008},
{"a":3.78,"t":0.00255,"m":0.00215},
{"a":3.88,"t":0.0023,"m":0.0019},
{"a":4.0,"t":0.00215,"m":0.0018},
{"a":7.63,"t":0.00152,"m":0.00138},
{"a":7.8,"t":0.0031,"m":0.00255,"p":0.00173},
{"a":8.09,"t":0.00212,"m":0.0017,"p":0.00122},
{"a":8.16,"t":0.00138,"m":0.0011},
{"a":8.47,"t":0.0042,"m":0.00344,"p":0.00243},
{"a":8.98,"t":0.003,"m":0.00242,"p":0.00177},
{"a":9.72,"t":0.00116,"m":0.00085},
{"a":10.74,"t":0.00123,"m":0.0012},
{"a":11.31,"t":0.00152,"m":0.00142},
{"a":0.09,"v":0.00026},{"a":0.36,"v":0.0003},{"a":0.58,"v":0.00075},{"a":0.84,"v":0.00095},
{"a":0.98,"v":0.0003},{"a":1.02,"v":0.0014},{"a":1.5,"v":0.00025},{"a":1.78,"v":0.00061},
{"a":2.04,"v":0.00071},{"a":2.18,"v":0.001},{"a":2.041,"v":0.00235},{"a":2.27,"v":0.0028},
{"a":2.62,"v":0.00185},{"a":2.181,"v":0.00095},{"a":2.271,"v":0.001},{"a":2.36,"v":0.00105},
{"a":2.31,"v":0.00085},{"a":2.22,"v":0.0008},{"a":2.13,"v":0.0009},{"a":2.4,"v":0.00075},
{"a":3.33,"v":0.0014},{"a":3.16,"v":0.00085},{"a":2.84,"v":0.00063},{"a":2.67,"v":0.00055},
{"a":2.98,"v":0.0005},{"a":3.42,"v":0.00055},{"a":3.64,"v":0.0004},{"a":3.78,"v":0.0006},
{"a":3.96,"v":0.00035},{"a":2.53,"v":0.00045},{"a":2.76,"v":0.0004},{"a":3.07,"v":0.00035},
{"a":3.24,"v":0.0004},{"a":3.56,"v":0.0003},
{"a":4.31,"v":0.00095},{"a":7.6,"v":0.00066},{"a":4.5,"v":0.0003},{"a":5.2,"v":0.0002},
{"a":6.0,"v":0.00015},{"a":7.75,"v":0.00025},{"a":8.1,"v":0.0002},{"a":10.75,"v":0.00045},
{"a":11.0,"v":0.00025},{"a":9.5,"v":0.00018},{"a":8.6,"v":0.00022},{"a":10.2,"v":0.0002},{"a":6.8,"v":0.00018}
]},
"layer":[
{"mark":{"type":"point","filled":true,"size":16,"color":"#000000","opacity":1},
 "encoding":{
  "x":{"field":"a","type":"quantitative","scale":{"domain":[-0.27,11.73],"nice":false,"zero":false},
   "axis":{"orient":"bottom","values":[0,2,4,6,8,10],"grid":true,"ticks":false,"labelFontSize":23,"labelPadding":11,"title":"Altitude (km)","titleFontSize":22,"titlePadding":6}},
  "y":{"field":"t","type":"quantitative","scale":{"domain":[-0.00021,0.00812],"nice":false,"zero":false},
   "axis":{"orient":"left","values":[0,0.002,0.004,0.006,0.008],"grid":true,"ticks":false,"labelFontSize":24,"labelPadding":5,"labelExpr":"datum.value === 0 ? '0' : format(datum.value, '.3f')","title":"Desvio Padrão","titleFontSize":22,"titlePadding":5}}
 }},
{"mark":{"type":"point","filled":true,"size":16,"color":"#3311ff","opacity":1},
 "encoding":{
  "x":{"field":"a","type":"quantitative","axis":{"orient":"bottom","values":[0,2,4,6,8,10],"labels":false,"grid":false,"tickSize":-6,"title":null}},
  "y":{"field":"m","type":"quantitative","axis":{"orient":"left","values":[0,0.002,0.004,0.006,0.008],"labels":false,"grid":false,"tickSize":-6,"title":null}}
 }},
{"mark":{"type":"point","filled":true,"size":16,"color":"#ff9900","opacity":1},
 "encoding":{
  "x":{"field":"a","type":"quantitative","axis":{"orient":"bottom","values":[0.5,1,1.5,2.5,3,3.5,4.5,5,5.5,6.5,7,7.5,8.5,9,9.5,10.5,11,11.5],"labels":false,"grid":false,"tickSize":-3,"title":null}},
  "y":{"field":"p","type":"quantitative","axis":{"orient":"left","values":[0.0005,0.001,0.0015,0.0025,0.003,0.0035,0.0045,0.005,0.0055,0.0065,0.007,0.0075],"labels":false,"grid":false,"tickSize":-3,"title":null}}
 }},
{"mark":{"type":"point","filled":true,"size":16,"color":"#33ee00","opacity":1},
 "encoding":{
  "x":{"field":"a","type":"quantitative","axis":{"orient":"top","values":[0,2,4,6,8,10],"labels":false,"grid":false,"tickSize":-6,"title":null}},
  "y":{"field":"v","type":"quantitative","axis":{"orient":"right","values":[0,0.002,0.004,0.006,0.008],"labels":false,"grid":false,"tickSize":-6,"title":null}}
 }},
{"data":{"values":[{}]},
 "mark":{"type":"text","align":"left","baseline":"alphabetic","font":"DejaVu Serif","fontSize":21,"color":"#000000"},
 "encoding":{
  "x":{"datum":7.07,"type":"quantitative","axis":{"orient":"top","values":[0.5,1,1.5,2.5,3,3.5,4.5,5,5.5,6.5,7,7.5,8.5,9,9.5,10.5,11,11.5],"labels":false,"grid":false,"tickSize":-3,"title":null}},
  "y":{"datum":0.00737,"type":"quantitative","axis":{"orient":"right","values":[0.0005,0.001,0.0015,0.0025,0.003,0.0035,0.0045,0.005,0.0055,0.0065,0.007,0.0075],"labels":false,"grid":false,"tickSize":-3,"title":null}},
  "text":{"value":"total"}
 }},
{"data":{"values":[{}]},
 "mark":{"type":"text","align":"left","baseline":"alphabetic","font":"DejaVu Serif","fontSize":21,"color":"#3311ff"},
 "encoding":{"x":{"datum":7.07,"type":"quantitative","axis":null},"y":{"datum":0.006567,"type":"quantitative","axis":null},"text":{"value":"medidas"}}},
{"data":{"values":[{}]},
 "mark":{"type":"text","align":"left","baseline":"alphabetic","font":"DejaVu Serif","fontSize":21,"color":"#ff9900"},
 "encoding":{"x":{"datum":7.07,"type":"quantitative","axis":null},"y":{"datum":0.005791,"type":"quantitative","axis":null},"text":{"value":"a priori"}}},
{"data":{"values":[{}]},
 "mark":{"type":"text","align":"left","baseline":"alphabetic","font":"DejaVu Serif","fontSize":21,"color":"#33ee00"},
 "encoding":{"x":{"datum":7.07,"type":"quantitative","axis":null},"y":{"datum":0.004985,"type":"quantitative","axis":null},"text":{"value":"vínculo"}}}
],
"resolve":{"axis":{"x":"independent","y":"independent"}}
}
